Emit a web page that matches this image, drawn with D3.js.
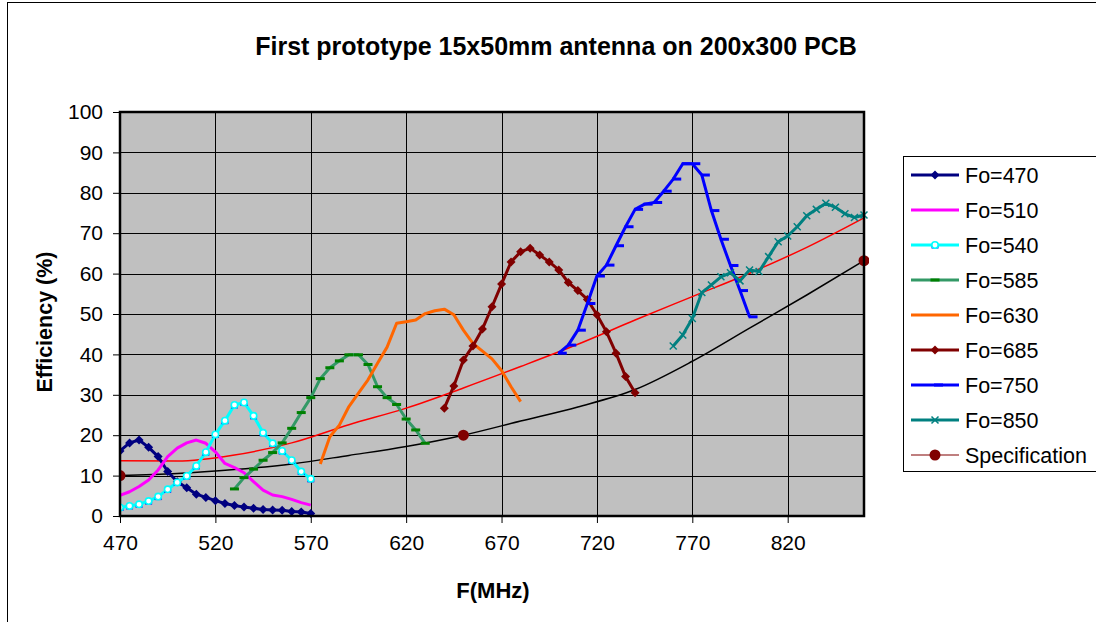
<!DOCTYPE html>
<html>
<head>
<meta charset="utf-8">
<script src="https://cdn.jsdelivr.net/npm/d3@7"></script>
<style>
body { margin: 0; background: #fff; }
text { font-family: Arial, "Liberation Sans", sans-serif; }
</style>
</head>
<body>
<svg></svg>
<script>
// frequencies (MHz)
const freqA = [470,475,480,485,490,495,500,505,510,515,520,525,530,535,540,545,550,555,560,565,570];
const freqB = [530,535,540,545,550,555,560,565,570,575,580,585,590,595,600,605,610,615,620,625,630];
const freqC = [575,580,585,590,595,600,605,610,615,620,625,630,635,640,645,650,655,660,665,670,675,680];
const freqD = [640,645,650,655,660,665,670,675,680,685,690,695,700,705,710,715,720,725,730,735,740];
const freqE = [700,705,710,715,720,725,730,735,740,745,750,755,760,765,770,775,780,785,790,795,800];
const freqF = [760,765,770,775,780,785,790,795,800,805,810,815,820,825,830,835,840,845,850,855,860];

// efficiency (%) per series
const fo470 = [16.1,18.1,18.8,17.0,14.7,11.0,8.5,7.0,5.4,4.6,3.8,3.1,2.6,2.2,1.9,1.6,1.5,1.4,1.1,1.0,0.6];
const fo510 = [5.1,6.0,7.3,8.9,11.4,14.7,16.8,18.1,18.8,18.0,15.9,13.0,12.0,10.7,8.5,6.4,5.2,4.8,4.1,3.3,2.7];
const fo540 = [2.1,2.5,2.9,3.7,4.8,6.6,8.3,9.9,12.4,15.8,20.2,23.6,27.5,28.1,24.8,20.6,18.0,16.1,13.8,11.0,9.2];
const fo585 = [6.7,9.5,11.6,13.8,15.7,18.1,21.7,25.6,29.3,34.0,36.7,38.4,39.9,39.9,37.5,32.0,29.3,27.6,24.0,21.3,18.0];
const fo630 = [12.9,19.6,22.5,27.1,30.4,33.7,37.8,41.8,47.7,48.1,48.5,50.1,50.8,51.2,49.8,46.0,42.7,40.8,38.9,36.0,32.0,28.3];
const fo685 = [26.7,32.2,38.6,42.1,46.3,51.8,57.4,62.9,65.4,66.3,64.6,62.9,60.9,57.8,55.8,53.6,49.8,45.6,40.3,34.5,30.5];
const fo750 = [40.3,42.3,46.0,52.6,59.4,62.1,66.9,71.6,75.9,77.2,77.6,80.4,83.4,87.2,87.2,84.4,75.6,68.5,62.0,55.8,49.3];
const fo850 = [42.1,44.8,48.9,55.3,57.2,59.2,60.2,58.2,60.9,60.5,64.2,67.9,69.3,71.6,74.3,75.9,77.4,76.4,74.8,73.9,74.5];

// specification points and the two smooth curves
const specFreq = [470, 650, 860];
const specVal = [10.0, 20.0, 63.2];
const curveFreq = [470,500,530,560,590,620,650,680,710,740,770,800,830,860];
const blackCurve = [10.0,10.5,11.5,12.9,15.0,17.2,20.0,23.5,27.0,31.3,38.3,46.5,54.7,63.2];
const redCurve = [13.7,13.6,15.1,18.1,22.6,26.7,31.7,37.0,42.5,48.5,54.3,60.1,66.5,73.8];

const xTicks = [470,520,570,620,670,720,770,820];
const yTicks = [0,10,20,30,40,50,60,70,80,90,100];

const series = [
    {name: 'Fo=470', f: freqA, v: fo470, color: '#000080', marker: 'diamond', mcolor: '#000080'},
    {name: 'Fo=510', f: freqA, v: fo510, color: '#FF00FF', marker: 'none'},
    {name: 'Fo=540', f: freqA, v: fo540, color: '#00FFFF', marker: 'ring'},
    {name: 'Fo=585', f: freqB, v: fo585, color: '#339966', marker: 'dash', mcolor: '#008000'},
    {name: 'Fo=630', f: freqC, v: fo630, color: '#FF6600', marker: 'none'},
    {name: 'Fo=685', f: freqD, v: fo685, color: '#800000', marker: 'diamond', mcolor: '#800000'},
    {name: 'Fo=750', f: freqE, v: fo750, color: '#0000FF', marker: 'rdash', mcolor: '#0000FF'},
    {name: 'Fo=850', f: freqF, v: fo850, color: '#008080', marker: 'cross', mcolor: '#008080'}
];

const size = {w: 1096, h: 622};
const plot = {l: 120, r: 864, t: 112, b: 516};

const svg = d3.select('svg')
    .attr('width', size.w)
    .attr('height', size.h);

// outer chart frame
svg.append('rect')
    .attr('x', 7.5).attr('y', 2.5)
    .attr('width', size.w + 20).attr('height', size.h + 20)
    .attr('fill', '#fff').attr('stroke', '#000').attr('stroke-width', 1);

const x = d3.scaleLinear().domain([470, 860]).range([plot.l, plot.r]);
const y = d3.scaleLinear().domain([0, 100]).range([plot.b, plot.t]);

// plot background
svg.append('rect')
    .attr('x', plot.l).attr('y', plot.t)
    .attr('width', plot.r - plot.l).attr('height', plot.b - plot.t)
    .attr('fill', '#C0C0C0');

// gridlines
const gridG = svg.append('g').attr('stroke', '#000').attr('stroke-width', 1);
gridG.selectAll('line.h')
    .data(yTicks.slice(1, -1))
    .join('line')
    .attr('x1', plot.l).attr('x2', plot.r)
    .attr('y1', d => Math.round(y(d)) + 0.5).attr('y2', d => Math.round(y(d)) + 0.5);
gridG.selectAll('line.v')
    .data(xTicks.slice(1))
    .join('line')
    .attr('y1', plot.t).attr('y2', plot.b)
    .attr('x1', d => Math.round(x(d)) + 0.5).attr('x2', d => Math.round(x(d)) + 0.5);

// axes
const xAxis = d3.axisBottom(x).tickValues(xTicks).tickSize(7).tickPadding(12).tickFormat(d3.format('d'));
const yAxis = d3.axisLeft(y).tickValues(yTicks).tickSize(7).tickPadding(10);

const xg = svg.append('g').attr('transform', `translate(0,${plot.b})`).call(xAxis);
const yg = svg.append('g').attr('transform', `translate(${plot.l},0)`).call(yAxis);
[xg, yg].forEach(g => {
    g.select('.domain').remove();
    g.selectAll('line').attr('stroke', '#000');
    g.selectAll('text').attr('font-size', 21).attr('fill', '#000')
        .style('font-family', 'Arial, "Liberation Sans", sans-serif');
});

// clip to plot area
svg.append('clipPath').attr('id', 'clip')
    .append('rect')
    .attr('x', plot.l).attr('y', plot.t - 5)
    .attr('width', plot.r - plot.l + 5).attr('height', plot.b - plot.t + 10);

const dataG = svg.append('g').attr('clip-path', 'url(#clip)');

// smooth curves
const smooth = d3.line()
    .x(d => x(d[0])).y(d => y(d[1]))
    .curve(d3.curveMonotoneX);

dataG.append('path')
    .datum(curveFreq.map((f, i) => [f, blackCurve[i]]))
    .attr('d', smooth)
    .attr('fill', 'none').attr('stroke', '#000').attr('stroke-width', 1.5);

dataG.append('path')
    .datum(curveFreq.map((f, i) => [f, redCurve[i]]))
    .attr('d', smooth)
    .attr('fill', 'none').attr('stroke', '#FF0000').attr('stroke-width', 1.5);

const line = d3.line().x(d => x(d[0])).y(d => y(d[1]));

function drawMarker(g, s, px, py) {
    if (s.marker === 'diamond') {
        g.append('path')
            .attr('d', `M${px},${py - 4.5}L${px + 4.5},${py}L${px},${py + 4.5}L${px - 4.5},${py}Z`)
            .attr('fill', s.mcolor);
    } else if (s.marker === 'ring') {
        g.append('rect')
            .attr('x', px - 3.5).attr('y', py).attr('width', 7).attr('height', 3.5)
            .attr('fill', '#0000FF');
        g.append('circle')
            .attr('cx', px).attr('cy', py).attr('r', 3.2)
            .attr('fill', '#fff').attr('stroke', '#00FFFF').attr('stroke-width', 1.6);
    } else if (s.marker === 'dash') {
        g.append('rect')
            .attr('x', px - 4.5).attr('y', py - 1.5).attr('width', 9).attr('height', 3)
            .attr('fill', s.mcolor);
    } else if (s.marker === 'rdash') {
        g.append('rect')
            .attr('x', px - 1).attr('y', py - 1.5).attr('width', 9).attr('height', 3)
            .attr('fill', s.mcolor);
    } else if (s.marker === 'cross') {
        g.append('path')
            .attr('d', `M${px - 3.5},${py - 3.5}L${px + 3.5},${py + 3.5}M${px - 3.5},${py + 3.5}L${px + 3.5},${py - 3.5}`)
            .attr('stroke', s.mcolor).attr('stroke-width', 1.5);
    } else if (s.marker === 'circle') {
        g.append('circle')
            .attr('cx', px).attr('cy', py).attr('r', 5.5)
            .attr('fill', s.mcolor);
    }
}

series.forEach(s => {
    const pts = s.f.map((f, i) => [f, s.v[i]]);
    const g = dataG.append('g');
    g.append('path')
        .datum(pts)
        .attr('d', line)
        .attr('fill', 'none')
        .attr('stroke', s.color)
        .attr('stroke-width', 3)
        .attr('stroke-linejoin', 'round');
    pts.forEach(p => drawMarker(g, s, x(p[0]), y(p[1])));
});

// specification markers
const spec = {name: 'Specification', color: '#800000', marker: 'circle', mcolor: '#800000'};
specFreq.forEach((f, i) => drawMarker(dataG, spec, x(f), y(specVal[i])));

// plot border
svg.append('rect')
    .attr('x', plot.l).attr('y', plot.t)
    .attr('width', plot.r - plot.l).attr('height', plot.b - plot.t)
    .attr('fill', 'none').attr('stroke', '#000').attr('stroke-width', 2.5);

// title and axis labels
svg.append('text')
    .attr('x', 556).attr('y', 55)
    .attr('text-anchor', 'middle')
    .attr('font-size', 25).attr('font-weight', 'bold')
    .text('First prototype 15x50mm antenna on 200x300 PCB');

svg.append('text')
    .attr('x', 493).attr('y', 598)
    .attr('text-anchor', 'middle')
    .attr('font-size', 22).attr('font-weight', 'bold')
    .text('F(MHz)');

svg.append('text')
    .attr('transform', 'translate(52,322) rotate(-90)')
    .attr('text-anchor', 'middle')
    .attr('font-size', 21.5).attr('font-weight', 'bold')
    .text('Efficiency (%)');

// legend
const legend = svg.append('g');
legend.append('rect')
    .attr('x', 903.5).attr('y', 156.5)
    .attr('width', 200).attr('height', 315)
    .attr('fill', '#fff').attr('stroke', '#000').attr('stroke-width', 1);

const legItems = series.concat([spec]);
legItems.forEach((s, i) => {
    const ly = 175 + i * 35;
    const g = legend.append('g');
    g.append('line')
        .attr('x1', 911).attr('x2', 959)
        .attr('y1', ly).attr('y2', ly)
        .attr('stroke', s.color)
        .attr('stroke-width', s.name === 'Specification' ? 1.2 : 3);
    drawMarker(g, s, 935, ly);
    g.append('text')
        .attr('x', 965).attr('y', ly + 7.5)
        .attr('font-size', 21.5)
        .text(s.name);
});
</script>
</body>
</html>
